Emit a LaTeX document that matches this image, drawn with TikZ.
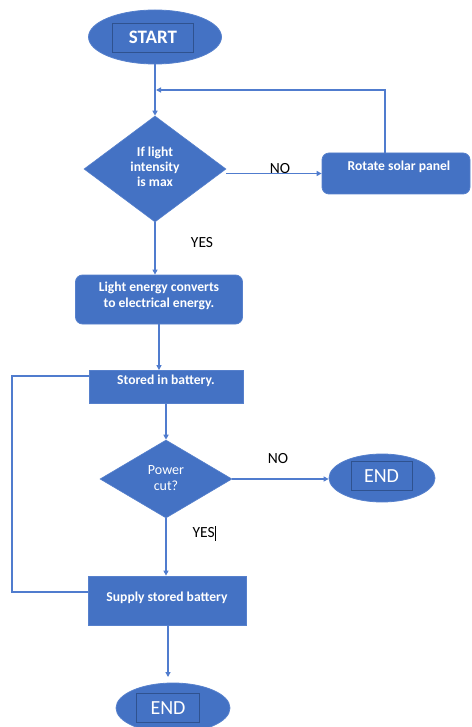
\documentclass[tikz,border=0pt]{standalone}
\usepackage{fontspec}
\setmainfont{Carlito}
\usetikzlibrary{shapes.geometric,arrows.meta}

\definecolor{flowfill}{RGB}{68,114,196}
\definecolor{flowedge}{RGB}{86,128,204}
\definecolor{inneredge}{RGB}{47,82,143}
\definecolor{wirecol}{RGB}{80,124,206}

\tikzset{
  wire/.style={draw=wirecol, line width=1.2pt},
  arrowwire/.style={wire, -{Triangle[length=5pt,width=5pt]}},
  procbox/.style={draw=flowedge, fill=flowfill, line width=0.8pt, inner sep=0pt},
  roundbox/.style={procbox, rounded corners=7pt},
  decision/.style={diamond, draw=flowedge, fill=flowfill, line width=0.6pt, inner sep=0pt},
  terminal/.style={ellipse, draw=flowedge, fill=flowfill, line width=0.8pt, inner sep=0pt},
  innerbox/.style={draw=inneredge, line width=0.8pt, inner sep=0pt, text=white},
  boxtext/.style={text=white, font=\bfseries\fontsize{13.6}{16}\selectfont, align=center, inner sep=0pt},
  answer/.style={text=black, font=\fontsize{15.5}{17}\selectfont, inner sep=0pt}
}

\begin{document}
\begin{tikzpicture}[x=1pt,y=-1pt]
  \useasboundingbox[fill=white] (0,0) rectangle (471,727);

  % start terminal
  \node[terminal, minimum width=133pt, minimum height=54pt] (start) at (155,37) {};
  \node[innerbox, minimum width=81pt, minimum height=29pt,
        font=\bfseries\fontsize{19}{20}\selectfont] (startin) at (153,37.5) {START};

  % first decision
  \node[decision, minimum width=142pt, minimum height=106pt] (d1) at (155,169) {};
  \node[boxtext, font=\bfseries\fontsize{13.6}{15}\selectfont] (d1txt) at (155,167) {If light\\intensity\\is max};

  % rotate panel
  \node[roundbox, minimum width=148pt, minimum height=41pt] (rot) at (396,173.5) {};
  \node[boxtext] (rottxt) at (399,167) {Rotate solar panel};

  % conversion step
  \node[roundbox, minimum width=167pt, minimum height=49pt] (light) at (159,299.5) {};
  \node[boxtext] (lighttxt) at (159,296) {Light energy converts\\to electrical energy.};

  % storage step
  \node[procbox, minimum width=154pt, minimum height=33pt] (stored) at (166,387) {};
  \node[boxtext] (storedtxt) at (166,381) {Stored in battery.};

  % second decision
  \node[decision, minimum width=132pt, minimum height=78pt] (d2) at (166,479) {};
  \node[boxtext, font=\fontsize{14}{16}\selectfont] (d2txt) at (166,478) {Power\\cut?};

  % right end terminal
  \node[terminal, minimum width=106pt, minimum height=48pt] (endR) at (382,478) {};
  \node[innerbox, minimum width=61pt, minimum height=29pt,
        font=\fontsize{20}{21}\selectfont] (endRin) at (381.5,476) {END};

  % supply step
  \node[procbox, minimum width=158pt, minimum height=49pt] (supply) at (167,600.5) {};
  \node[boxtext] (supplytxt) at (167,598) {Supply stored battery};

  % bottom end terminal
  \node[terminal, minimum width=114pt, minimum height=50pt] (endB) at (173,708) {};
  \node[innerbox, minimum width=63pt, minimum height=29pt,
        font=\fontsize{20}{21}\selectfont] (endBin) at (168,708) {END};

  % answer labels
  \node[answer] (no1) at (280,169) {NO};
  \node[answer] (yes1) at (202,243) {YES};
  \node[answer] (no2) at (278,459) {NO};
  \node[answer] (yes2) at (204,533) {YES\rule[-3pt]{0.8pt}{15pt}};

  % connectors
  \draw[arrowwire] (start.south -| d1.north) -- (d1.north);
  \draw[arrowwire] (d1.east |- rot.west) -- (rot.west);
  \coordinate (backTop) at (385,90);
  \coordinate (backEnd) at (156,90);
  \draw[arrowwire] (backTop |- rot.north) -- (backTop) -- (backEnd);
  \draw[arrowwire] (d1.south) -- (d1.south |- light.north);
  \draw[arrowwire] (light.south) -- (light.south |- stored.north);
  \draw[arrowwire] (stored.south) -- (d2.north);
  \draw[arrowwire] (d2.east) -- (d2.east -| endR.west);
  \draw[arrowwire] (d2.south) -- (d2.south |- supply.north);
  \coordinate (sideTop) at (12,376);
  \coordinate (sideBot) at (12,592);
  \draw[wire] (stored.west |- sideTop) -- (sideTop) -- (sideBot) -- (sideBot -| supply.west);
  \coordinate (downEnd) at (168,677);
  \draw[arrowwire] (supply.south -| downEnd) -- (downEnd);
\end{tikzpicture}
\end{document}
